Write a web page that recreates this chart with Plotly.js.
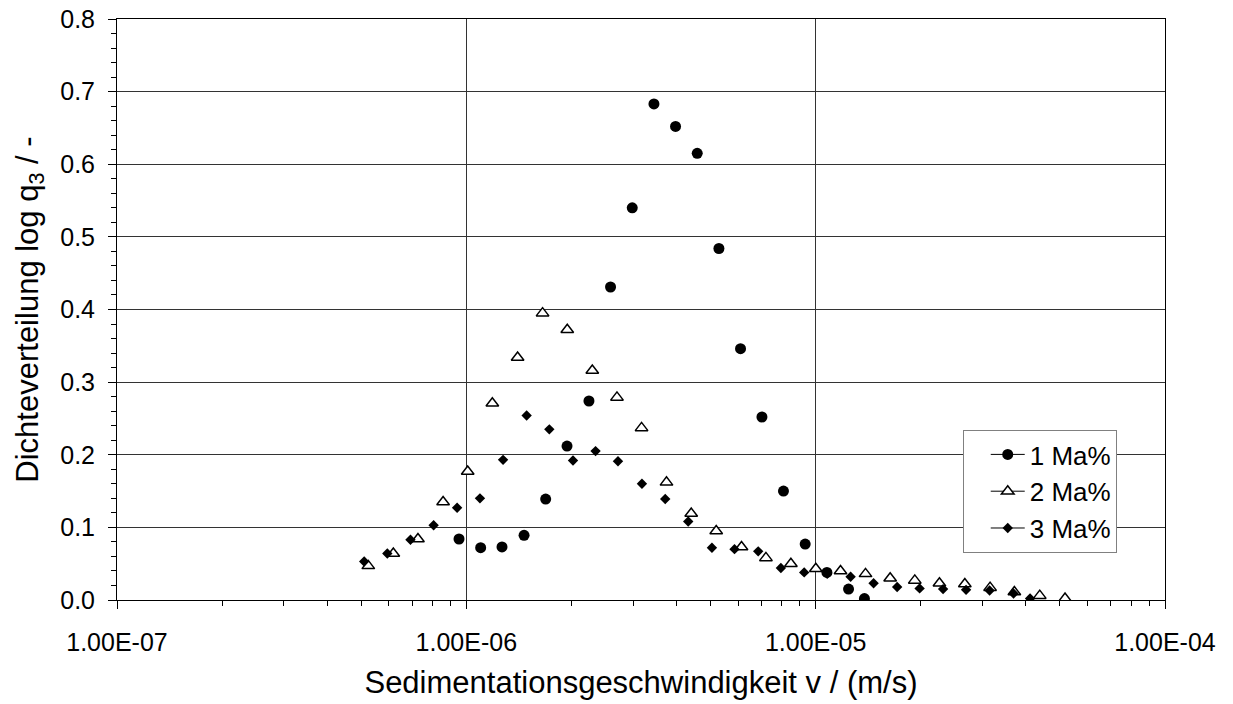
<!DOCTYPE html>
<html>
<head>
<meta charset="utf-8">
<script src="https://cdn.plot.ly/plotly-3.0.1.min.js"></script>
<style>html,body{margin:0;padding:0;background:#fff}#chart{width:1233px;height:704px}</style>
</head>
<body>
<div id="chart"></div>
<script>
// Series 1: 1 Ma%
const v1 = [9.53e-7, 1.099e-6, 1.265e-6, 1.463e-6, 1.687e-6, 1.942e-6, 2.244e-6, 2.587e-6, 2.985e-6, 3.444e-6, 3.971e-6, 4.581e-6, 5.285e-6, 6.094e-6, 7.018e-6, 8.088e-6, 9.332e-6, 1.077e-5, 1.242e-5, 1.379e-5];
const q1 = [0.084, 0.072, 0.073, 0.089, 0.139, 0.212, 0.274, 0.431, 0.540, 0.683, 0.652, 0.615, 0.484, 0.346, 0.252, 0.150, 0.077, 0.038, 0.015, 0.002];
// Series 2: 2 Ma%
const v2 = [5.24e-7, 6.18e-7, 7.27e-7, 8.58e-7, 1.009e-6, 1.187e-6, 1.402e-6, 1.653e-6, 1.945e-6, 2.294e-6, 2.699e-6, 3.174e-6, 3.741e-6, 4.403e-6, 5.192e-6, 6.134e-6, 7.205e-6, 8.493e-6, 1.001e-5, 1.178e-5, 1.389e-5, 1.634e-5, 1.922e-5, 2.261e-5, 2.673e-5, 3.157e-5, 3.705e-5, 4.380e-5, 5.174e-5];
const q2 = [0.047, 0.064, 0.084, 0.135, 0.177, 0.271, 0.334, 0.395, 0.372, 0.316, 0.279, 0.237, 0.162, 0.119, 0.095, 0.073, 0.058, 0.050, 0.043, 0.040, 0.036, 0.030, 0.027, 0.023, 0.022, 0.017, 0.011, 0.006, 0.002];
// Series 3: 3 Ma%
const v3 = [5.10e-7, 5.94e-7, 6.92e-7, 8.06e-7, 9.41e-7, 1.094e-6, 1.274e-6, 1.488e-6, 1.728e-6, 2.020e-6, 2.344e-6, 2.717e-6, 3.182e-6, 3.710e-6, 4.317e-6, 5.047e-6, 5.857e-6, 6.847e-6, 7.951e-6, 9.271e-6, 1.079e-5, 1.259e-5, 1.465e-5, 1.711e-5, 1.984e-5, 2.316e-5, 2.695e-5, 3.147e-5, 3.685e-5, 4.109e-5];
const q3 = [0.053, 0.064, 0.083, 0.103, 0.127, 0.140, 0.193, 0.254, 0.235, 0.192, 0.205, 0.191, 0.160, 0.139, 0.108, 0.072, 0.070, 0.067, 0.044, 0.038, 0.036, 0.032, 0.023, 0.018, 0.016, 0.015, 0.014, 0.013, 0.009, 0.002];

const seriesNames = ['1 Ma%', '2 Ma%', '3 Ma%'];
const xTickVals = [1e-7, 1e-6, 1e-5, 1e-4];
const xTickText = ['1.00E-07', '1.00E-06', '1.00E-05', '1.00E-04'];
const yTickVals = [0, 0.1, 0.2, 0.3, 0.4, 0.5, 0.6, 0.7, 0.8];
const yTickText = ['0.0', '0.1', '0.2', '0.3', '0.4', '0.5', '0.6', '0.7', '0.8'];

// insert gaps so the line (shown only in the legend) never joins points
function sep(a) { const o = []; a.forEach((v, i) => { if (i) o.push(null); o.push(v); }); return o; }

const FONT = 'Liberation Sans, Arial, Helvetica, sans-serif';

const traces = [
  {x: sep(v1), y: sep(q1), name: seriesNames[0], mode: 'lines+markers', connectgaps: false,
   line: {color: '#000', width: 1}, marker: {symbol: 'circle', size: 11, color: '#000'}},
  {x: sep(v2), y: sep(q2), name: seriesNames[1], mode: 'lines+markers', connectgaps: false,
   line: {color: '#000', width: 1}, marker: {symbol: 'triangle-up', size: 11, color: '#fff', line: {color: '#000', width: 1.5}}},
  {x: sep(v3), y: sep(q3), name: seriesNames[2], mode: 'lines+markers', connectgaps: false,
   line: {color: '#000', width: 1}, marker: {symbol: 'diamond', size: 8, color: '#000'}}
];

const layout = {
  width: 1233, height: 704,
  margin: {l: 117, r: 68, t: 19, b: 104},
  paper_bgcolor: '#fff', plot_bgcolor: '#fff',
  font: {family: FONT, color: '#000', size: 26},
  showlegend: true,
  legend: {x: 0.807, y: 0.2926, xanchor: 'left', yanchor: 'top', bgcolor: '#fff',
    bordercolor: '#808080', borderwidth: 1, font: {family: FONT, size: 26, color: '#000'},
    traceorder: 'normal', indentation: 22, itemwidth: 34, entrywidth: 100, entrywidthmode: 'pixels'},
  xaxis: {
    type: 'log', range: [-7, -4],
    tickmode: 'array', tickvals: xTickVals, ticktext: xTickText,
    ticks: 'outside', ticklen: 8, tickcolor: '#000', tickwidth: 1,
    minor: {ticks: 'outside', ticklen: 5, tickcolor: '#000', dtick: 'D1', showgrid: false},
    showgrid: true, gridcolor: '#333', gridwidth: 1,
    showline: true, linecolor: '#000', linewidth: 1, mirror: true,
    zeroline: false, tickfont: {size: 25}, ticklabelstandoff: 12,
    title: {text: 'Sedimentationsgeschwindigkeit v / (m/s)', font: {size: 31}, standoff: 16}
  },
  yaxis: {
    range: [0, 0.8],
    tickmode: 'array', tickvals: yTickVals, ticktext: yTickText,
    ticks: 'outside', ticklen: 8, tickcolor: '#000', tickwidth: 1,
    minor: {ticks: 'outside', ticklen: 5, tickcolor: '#000', dtick: 0.02, showgrid: false},
    showgrid: true, gridcolor: '#333', gridwidth: 1,
    showline: true, linecolor: '#000', linewidth: 1, mirror: true,
    zeroline: false, tickfont: {size: 25}, ticklabelstandoff: 8,
    title: {text: 'Dichteverteilung log q<sub>3</sub> / -', font: {size: 31}, standoff: 12}
  }
};

Plotly.newPlot('chart', traces, layout, {staticPlot: true, displayModeBar: false});
</script>
</body>
</html>
